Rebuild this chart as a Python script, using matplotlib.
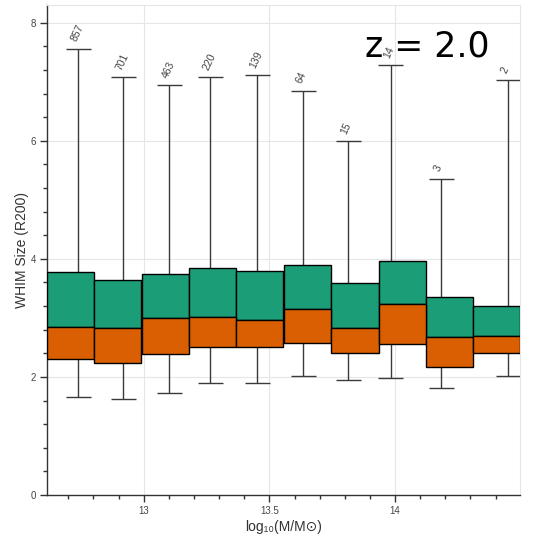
import matplotlib
matplotlib.use("Agg")
import matplotlib.pyplot as plt
from matplotlib.ticker import MultipleLocator

plt.rcParams['font.family'] = ['Liberation Sans', 'DejaVu Sans']

# bins in log10 halo mass
mass_centers = [12.709, 12.897, 13.086, 13.274, 13.462,
                13.651, 13.840, 14.028, 14.216, 14.403]
bin_width = 0.188
# mean mass of the haloes in each bin (whisker position)
mass_mean = [12.739, 12.919, 13.101, 13.264, 13.451,
             13.635, 13.814, 13.983, 14.183, 14.450]

# WHIM size statistics per bin (R200)
q1 = [2.31, 2.23, 2.38, 2.50, 2.50, 2.58, 2.40, 2.56, 2.17, 2.41]
median = [2.84, 2.83, 3.00, 3.01, 2.97, 3.15, 2.83, 3.24, 2.67, 2.69]
q3 = [3.77, 3.64, 3.75, 3.85, 3.80, 3.90, 3.59, 3.96, 3.36, 3.20]
lower = [1.66, 1.62, 1.73, 1.89, 1.90, 2.02, 1.94, 1.98, 1.82, 2.02]
upper = [7.56, 7.08, 6.94, 7.08, 7.11, 6.85, 5.99, 7.28, 5.36, 7.03]
counts = [857, 701, 463, 220, 139, 64, 15, 14, 3, 2]

redshift = "2.0"

fig = plt.figure(figsize=(5.41, 5.40), dpi=100)
ax = fig.add_axes([47 / 541, 45 / 540, 473 / 541, 490 / 540])

# whiskers + caps
cap = 0.05
wcol = '#3a3a3a'
ax.vlines(mass_mean, q3, upper, color=wcol, lw=1, zorder=2)
ax.vlines(mass_mean, lower, q1, color=wcol, lw=1, zorder=2)
ax.hlines(upper, [m - cap for m in mass_mean], [m + cap for m in mass_mean],
          color=wcol, lw=1, zorder=2)
ax.hlines(lower, [m - cap for m in mass_mean], [m + cap for m in mass_mean],
          color=wcol, lw=1, zorder=2)

# boxes: upper half green, lower half orange
ax.bar(mass_centers, [b - a for a, b in zip(median, q3)], bottom=median,
       width=bin_width, color='#1b9e77', edgecolor='black', lw=1, zorder=3)
ax.bar(mass_centers, [b - a for a, b in zip(q1, median)], bottom=q1,
       width=bin_width, color='#d95f02', edgecolor='black', lw=1, zorder=3)

# number of haloes above each whisker
for m, u, n in zip(mass_mean, upper, counts):
    ax.annotate(str(n), (m, u), xytext=(0, 4), textcoords='offset points',
                rotation=65, rotation_mode='anchor', ha='left', va='bottom',
                fontsize=7.5, color='#444444')

ax.text(0.672, 0.894, "z = " + redshift, transform=ax.transAxes,
        fontsize=25, family='DejaVu Sans', ha='left', va='baseline', color='black')

ax.set_xlim(12.615, 14.497)
ax.set_ylim(0, 8.30)
ax.xaxis.set_minor_locator(MultipleLocator(0.1))
ax.yaxis.set_major_locator(MultipleLocator(2))
ax.yaxis.set_minor_locator(MultipleLocator(0.4))
ax.set_xticks([13, 13.5, 14])
ax.set_xticklabels(["13", "13.5", "14"])

ax.grid(True, which='major', color='#e6e6e6', lw=0.8, zorder=0)
ax.set_axisbelow(True)

for s in ['top', 'right']:
    ax.spines[s].set_color('#e6e6e6')
for s in ['left', 'bottom']:
    ax.spines[s].set_color('#333333')
    ax.spines[s].set_linewidth(1)

ax.tick_params(which='major', direction='out', length=5, width=1, color='#333333',
               labelsize=7, labelcolor='#444444', pad=3)
ax.tick_params(which='minor', direction='out', length=3, width=1, color='#333333')
ax.tick_params(axis='x', which='both', top=False)
ax.tick_params(axis='y', which='both', right=False)

ax.set_ylabel("WHIM Size (R200)", fontsize=10, color='#333333', labelpad=1)
ax.set_xlabel("log₁₀(M/M⊙)", fontsize=10, color='#333333', labelpad=3)

fig.savefig("out.png", dpi=100)
